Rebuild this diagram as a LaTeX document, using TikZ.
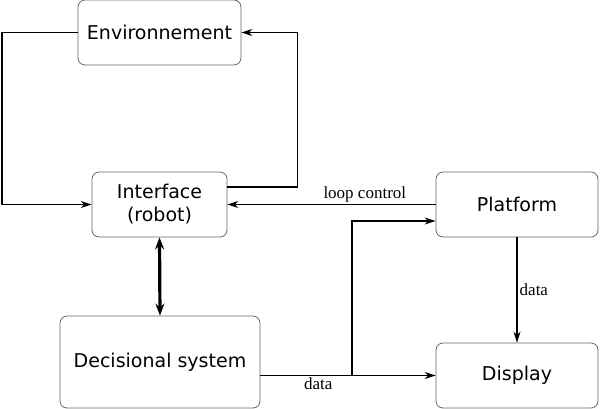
\documentclass[tikz,border=0pt]{standalone}
\usepackage{fontspec}
\setmainfont{Liberation Serif}
\newfontfamily\boxfont{DejaVu Sans}
\usetikzlibrary{arrows.meta}
\tikzset{
  blk/.style={draw=black!60,rounded corners=7pt,line width=0.8pt,align=center,
    font=\boxfont\fontsize{19}{23}\selectfont,inner sep=0pt},
  flow/.style={black,line width=1.4pt,-{Stealth[length=11pt,width=7pt]}},
  lbl/.style={font=\fontsize{17}{20}\selectfont,inner sep=2pt}
}
\begin{document}
\begin{tikzpicture}[x=1pt,y=-1pt]
    \useasboundingbox (0,0) rectangle (600,409);
    % boxes
    \node[blk,minimum width=163pt,minimum height=65pt] (env)   at (159.5,32.5)  {Environnement};
    \node[blk,minimum width=135pt,minimum height=65pt] (iface) at (159.5,204.5) {Interface\\(robot)};
    \node[blk,minimum width=162pt,minimum height=65pt] (plat)  at (517,204.5)   {Platform};
    \node[blk,minimum width=200pt,minimum height=92pt] (dec)   at (160,362)     {Decisional system};
    \node[blk,minimum width=162pt,minimum height=65pt] (disp)  at (517,375.5)   {Display};
    \coordinate (lft)   at (2,32.5);
    \coordinate (split) at (352,375.5);
    % loop with the environment
    \draw[flow] (env.west) -- (lft) |- (iface.west);
    \draw[flow] ([yshift=17.5pt]iface.east) -| ([xshift=56pt]env.east) -- (env.east);
    % control and data
    \draw[flow] (plat.west) -- (iface.east) node[lbl,pos=0.34,above] {loop control};
    \draw[flow] (dec.east |- disp.west) -- (disp.west) node[lbl,pos=0.33,below] {data};
    \draw[flow] (split) |- ([yshift=-16.5pt]plat.west);
    \draw[flow] (plat.south) -- (disp.north) node[lbl,midway,right] {data};
    \draw[black,line width=3.2pt,{Stealth[length=12pt,width=9pt]}-{Stealth[length=12pt,width=9pt]}] (iface.south) -- (dec.north);
\end{tikzpicture}
\end{document}
